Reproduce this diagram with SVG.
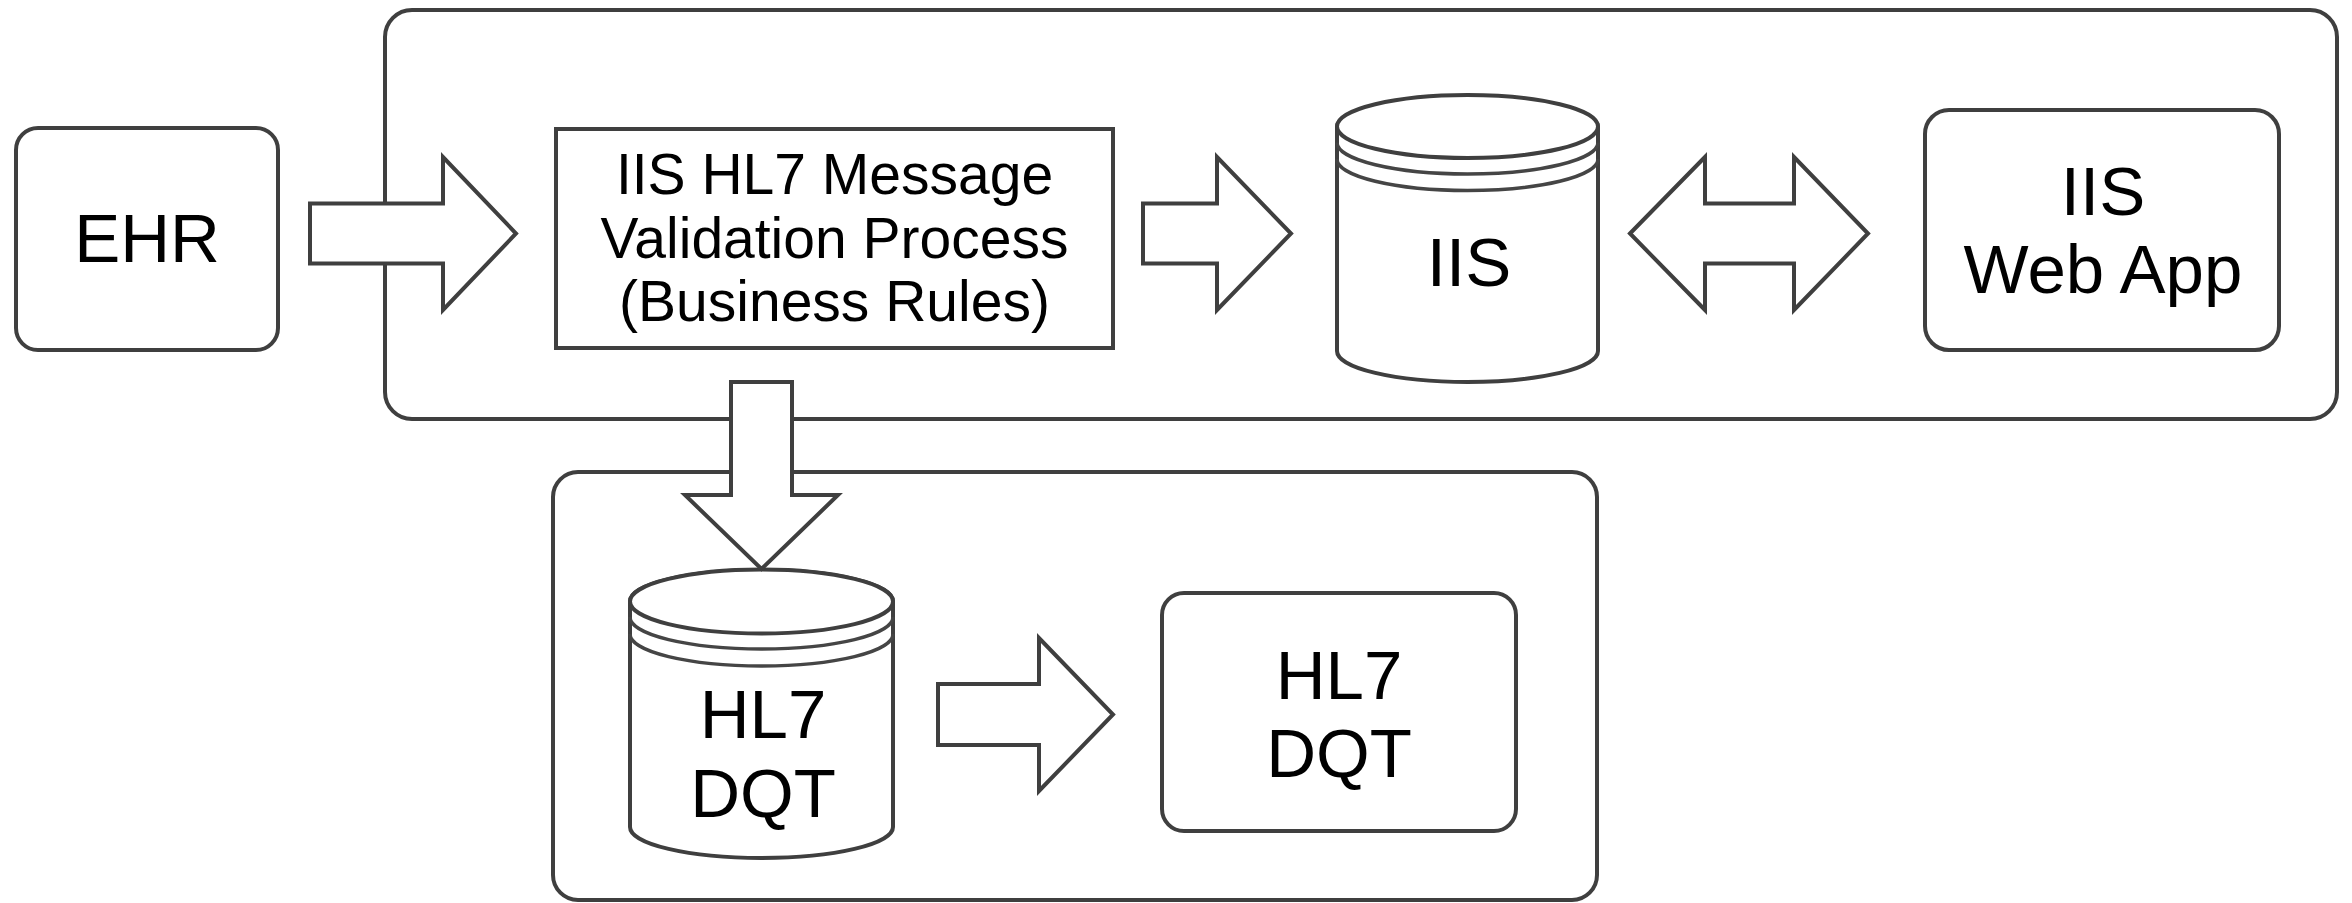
<svg xmlns="http://www.w3.org/2000/svg" width="2352" height="903" viewBox="0 0 2352 903">
<style>
.box{fill:#fff;stroke:#3f3f3f;stroke-width:4}
.cont{fill:none;stroke:#3f3f3f;stroke-width:4}
.arr{fill:#fff;stroke:#3f3f3f;stroke-width:4;stroke-linejoin:miter}
.ring{fill:none;stroke:#454545;stroke-width:3.5}
.t{font-family:"Liberation Sans",Arial,sans-serif;fill:#000;text-anchor:middle}
.big{font-size:69px}
.mid{font-size:57px}
</style>
<rect width="2352" height="903" fill="#fff"/>
<g id="iis-container"><rect class="cont" x="385" y="10" width="1952" height="409" rx="27"/></g>
<g id="dqt-container"><rect class="cont" x="553" y="472" width="1044" height="428" rx="25"/></g>
<g id="ehr"><rect class="box" x="16" y="128" width="262" height="222" rx="22"/><text class="t big" x="147" y="262">EHR</text></g>
<g id="validation"><rect class="box" x="556" y="129" width="557" height="219"/>
<text class="t mid" x="834.5" y="194">IIS HL7 Message</text>
<text class="t mid" x="834.5" y="257.5">Validation Process</text>
<text class="t mid" x="834.5" y="321">(Business Rules)</text></g>
<g id="iis-db">
<path class="box" d="M1337,127 L1337,351 A130.5,31 0 0 0 1598,351 L1598,127 A130.5,31 0 0 0 1337,127 Z"/>
<ellipse class="box" cx="1467.5" cy="126.5" rx="130.5" ry="31.5"/>
<path class="ring" d="M1337,142.5 A130.5,31.5 0 0 0 1598,142.5 M1337,159 A130.5,31.5 0 0 0 1598,159"/>
<text class="t big" x="1469" y="286">IIS</text></g>
<g id="webapp"><rect class="box" x="1925" y="110" width="354" height="240" rx="24"/>
<text class="t big" x="2103" y="215">IIS</text>
<text class="t big" x="2103" y="293">Web App</text></g>
<g id="hl7-db">
<path class="box" d="M630,601 L630,827 A131.5,31 0 0 0 893,827 L893,601 A131.5,31 0 0 0 630,601 Z"/>
<ellipse class="box" cx="761.5" cy="601.5" rx="131.5" ry="32"/>
<path class="ring" d="M630,617 A131.5,32 0 0 0 893,617 M630,634 A131.5,32 0 0 0 893,634"/>
<text class="t big" x="763" y="738">HL7</text>
<text class="t big" x="763" y="817">DQT</text></g>
<g id="hl7-box"><rect class="box" x="1162" y="593" width="354" height="238" rx="22"/>
<text class="t big" x="1339" y="699">HL7</text>
<text class="t big" x="1339" y="777">DQT</text></g>
<g id="connectors">
<polygon class="arr" points="310,203.5 443,203.5 443,157 516,233.5 443,310 443,263.5 310,263.5"/>
<polygon class="arr" points="1143,203.5 1217,203.5 1217,157 1291,233.5 1217,310 1217,263.5 1143,263.5"/>
<polygon class="arr" points="1630,233.5 1705,157 1705,203.5 1794,203.5 1794,157 1868,233.5 1794,310 1794,263.5 1705,263.5 1705,310"/>
<polygon class="arr" points="731,382 792,382 792,495 838,495 761.5,569 685,495 731,495"/>
<polygon class="arr" points="938,684 1039,684 1039,638 1113,714.5 1039,791 1039,745 938,745"/>
</g>
</svg>
